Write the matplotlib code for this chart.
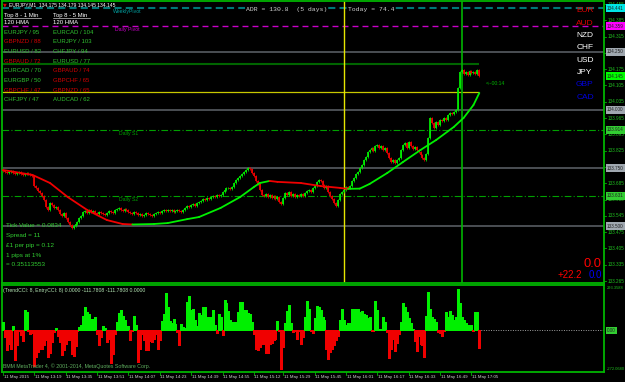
import numpy as np
import matplotlib.pyplot as plt
from matplotlib.lines import Line2D

plt.rcParams['font.family'] = ['Liberation Sans', 'DejaVu Sans']

# ---------------- data ----------------
# EURJPY M1 closes, one per bar
closes = [
    133.738, 133.734, 133.729, 133.734, 133.738, 133.729, 133.725, 133.729, 133.734, 133.725,
    133.721, 133.725, 133.729, 133.725, 133.721, 133.716, 133.673, 133.665, 133.652, 133.643,
    133.630, 133.613, 133.583, 133.570, 133.600, 133.592, 133.579, 133.583, 133.570, 133.553,
    133.544, 133.557, 133.535, 133.518, 133.505, 133.492, 133.501, 133.510, 133.518, 133.535,
    133.544, 133.561, 133.566, 133.557, 133.570, 133.561, 133.566, 133.557, 133.553, 133.561,
    133.557, 133.553, 133.548, 133.557, 133.566, 133.561, 133.557, 133.570, 133.574, 133.579,
    133.570, 133.566, 133.574, 133.570, 133.561, 133.557, 133.553, 133.561, 133.557, 133.548,
    133.553, 133.544, 133.548, 133.557, 133.553, 133.548, 133.544, 133.553, 133.557, 133.561,
    133.557, 133.566, 133.570, 133.566, 133.570, 133.566, 133.570, 133.561, 133.566, 133.570,
    133.566, 133.561, 133.570, 133.579, 133.587, 133.583, 133.592, 133.596, 133.587, 133.600,
    133.604, 133.609, 133.617, 133.613, 133.622, 133.617, 133.626, 133.630, 133.626, 133.635,
    133.630, 133.635, 133.648, 133.656, 133.665, 133.665, 133.661, 133.669, 133.686, 133.699,
    133.708, 133.716, 133.725, 133.734, 133.742, 133.751, 133.746, 133.729, 133.716, 133.695,
    133.682, 133.656, 133.635, 133.630, 133.639, 133.626, 133.635, 133.622, 133.630, 133.617,
    133.626, 133.604, 133.596, 133.622, 133.643, 133.635, 133.648, 133.630, 133.639, 133.626,
    133.635, 133.630, 133.639, 133.630, 133.643, 133.652, 133.656, 133.648, 133.665, 133.673,
    133.691, 133.699, 133.695, 133.678, 133.665, 133.673, 133.648, 133.630, 133.617, 133.600,
    133.587, 133.613, 133.639, 133.648, 133.656, 133.669, 133.665, 133.673, 133.695, 133.708,
    133.725, 133.734, 133.751, 133.764, 133.785, 133.798, 133.819, 133.828, 133.837, 133.824,
    133.845, 133.850, 133.837, 133.845, 133.828, 133.837, 133.815, 133.794, 133.776, 133.785,
    133.772, 133.785, 133.794, 133.828, 133.850, 133.858, 133.837, 133.862, 133.845, 133.832,
    133.841, 133.828, 133.819, 133.807, 133.794, 133.785, 133.811, 133.880, 133.966, 133.945,
    133.923, 133.949, 133.936, 133.957, 133.953, 133.966, 133.957, 133.979, 133.987, 133.983,
    133.991, 134.000, 134.094, 134.163, 134.172, 134.155, 134.163, 134.151, 134.168, 134.159,
    134.163, 134.155, 134.172, 134.145,
]
first_open = 133.742

# 120 HMA line, sampled at these bars
hma_bars = [0, 15, 24, 33, 43, 53, 61, 66, 77, 84, 94, 100, 111, 121, 128, 131,
            136, 140, 152, 162, 172, 176, 182, 187, 196, 204, 213, 221, 230, 235, 240, 243]
hma_vals = [133.742, 133.721, 133.686, 133.626, 133.570, 133.527, 133.510, 133.508,
            133.510, 133.514, 133.531, 133.540, 133.579, 133.626, 133.669, 133.686,
            133.695, 133.691, 133.686, 133.673, 133.665, 133.661, 133.662, 133.682,
            133.729, 133.776, 133.828, 133.871, 133.927, 133.966, 134.021, 134.073]

# TrendCCI / EntryCCI histogram, one per bar
cci_hist = [
    62, -46, -138, -92, -127, 28, -207, -104, -5, -35,
    -76, 143, 127, -5, -23, -18, -248, -184, -150, -127,
    -127, -104, -69, -184, -156, -81, -12, 16, -41, -81,
    -173, -138, -92, -69, -69, -161, -179, -108, -4, 23,
    35, 104, 166, 127, 115, 81, 81, 92, -23, -104,
    -46, 28, 16, -81, -58, -225, -161, -23, 62, 120,
    143, 104, 76, 30, 30, -64, -4, 104, 41, -219,
    -133, -28, -69, -138, -138, -74, -81, -62, -23, -127,
    -69, 69, 115, 258, 166, 69, 51, 81, 46, -12,
    -104, 46, 23, 16, 196, 242, 143, 150, 74, 28,
    120, 108, 166, 161, 92, 97, 92, 143, 35, -18,
    115, 92, -35, 212, 189, 133, 74, 58, 58, 58,
    127, 196, 196, 143, 143, 122, 115, 62, -23, -127,
    -138, -115, -92, -97, -156, -156, -92, -87, -69, -58,
    69, -4, -271, -115, 51, 138, 179, 51, -12, -4,
    -58, -4, -92, -46, 92, 207, 150, -4, -16, 85,
    173, 161, 143, 97, 74, -127, -196, -150, -127, -104,
    -64, -41, 74, 150, 74, 35, 53, 53, 150, 150,
    150, 150, 127, 133, 115, 110, 87, 97, -4, -3,
    207, 143, 12, 12, 97, 58, -12, -189, -133, -58,
    -143, -87, -23, 58, 189, 166, 127, 87, 51, 12,
    -74, -143, -41, -92, -104, -184, 104, 271, 150, 92,
    81, 58, -12, -18, -41, -4, 127, 92, 133, 108,
    74, 97, 288, 189, 97, 74, 51, 41, 39, 35,
    -4, 127, 127, -122,
]

# levels
weekly_pivot = 134.437
daily_pivot = 134.359
round_levels = [134.250, 134.000, 133.750, 133.500]
daily_s1 = 133.914
daily_s2 = 133.631
day_high_line = 134.197
adr_line = 134.077
session_bars = [174, 234]   # yellow, green verticals

price_ticks = [134.455, 134.385, 134.315, 134.245, 134.175, 134.105, 134.035, 133.965,
               133.895, 133.825, 133.755, 133.685, 133.615, 133.545, 133.475, 133.405,
               133.335, 133.265]

time_bars = [0, 16, 32, 48, 64, 80, 96, 112, 128, 143, 159, 175, 191, 207, 223, 239]
time_labels = ["11 May 2015", "11 May 13:19", "11 May 13:35", "11 May 13:51", "11 May 14:07",
               "11 May 14:23", "11 May 14:39", "11 May 14:55", "11 May 15:12", "11 May 15:29",
               "11 May 15:45", "11 May 16:01", "11 May 16:17", "11 May 16:33", "11 May 16:49",
               "11 May 17:05"]

top1_pairs = ["EURJPY / 95", "GBPNZD / 88", "EURUSD / 82", "GBPAUD / 72",
              "EURCAD / 70", "EURGBP / 50", "GBPCHF / 47", "CHFJPY / 47"]
top1_up = [True, False, True, False, True, True, False, True]
top5_pairs = ["EURCAD / 104", "EURJPY / 103", "CHFJPY / 94", "EURUSD / 77",
              "GBPAUD / 74", "GBPCHF / 65", "GBPNZD / 65", "AUDCAD / 62"]
top5_up = [True, True, True, True, False, False, False, True]

currencies = ["EUR", "AUD", "NZD", "CHF", "USD", "JPY", "GBP", "CAD"]
currency_colors = ["#e00000", "#e00000", "white", "white", "white", "white", "#0000e0", "#0000e0"]

info_lines = ["Tick Value = 0.0834", "Spread = 11", "£1 per pip = 0.12", "1 pips at 1%", "= 0.35113553"]

# ---------------- figure ----------------
W, H = 625, 382
def fx(x): return x / W
def fy(y): return 1 - y / H

GREEN = '#00b400'
UP = '#00f000'
DOWN = '#f00000'
AX_TXT = dict(fontsize=3.3, va='center', ha='left')

fig = plt.figure(figsize=(6.25, 3.82), dpi=100, facecolor='black')
ax = fig.add_axes([fx(2), fy(283), fx(604) - fx(2), fy(1) - fy(283)])
axi = fig.add_axes([fx(2), fy(372), fx(604) - fx(2), fy(285) - fy(372)])
for a in (ax, axi):
    a.set_facecolor('black')
    a.set_xticks([])
    a.set_yticks([])
    for s in a.spines.values():
        s.set_color(GREEN)
        s.set_linewidth(1.3)

xmin, xmax = -0.51, 306.6
ax.set_xlim(xmin, xmax)
ax.set_ylim(133.2566, 134.4679)
axi.set_xlim(xmin, xmax)
axi.set_ylim(-290, 317)

n = len(closes)
idx = np.arange(n)
c = np.array(closes)
o = np.r_[first_open, c[:-1]]
up = c >= o
lo = np.minimum(o, c)
hi = np.maximum(o, c)
hi = np.where(hi - lo < 0.0018, lo + 0.0018, hi)

# horizontal levels
ax.axhline(weekly_pivot, color='#007878', lw=1.5, ls=(0, (3.4, 2.0)), zorder=1)
ax.axhline(daily_pivot, color='#c800c8', lw=1.0, ls=(0, (4.3, 2.9)), zorder=1)
for lv in round_levels:
    ax.axhline(lv, color='#50555a', lw=1.3, zorder=1)
for lv in (daily_s1, daily_s2):
    ax.axhline(lv, color='#00a000', lw=0.8, ls=(0, (6, 2, 1, 2)), zorder=1)
ax.hlines(day_high_line, xmin, n - 1, color='#006400', lw=1.5, zorder=1)
ax.hlines(adr_line, xmin, n - 1, color='#c8c800', lw=0.9, zorder=1)
ax.axvline(session_bars[0], color='#e6e600', lw=1.0, zorder=1)
ax.axvline(session_bars[1], color='#00b400', lw=1.2, zorder=1)

# candles
col = np.where(up, UP, DOWN)
ax.vlines(idx, lo - 0.004, hi + 0.004, colors=col, lw=0.55, zorder=3)
ax.vlines(idx, lo, hi, colors=col, lw=1.25, zorder=3)

# HMA, coloured by slope
for k in range(len(hma_bars) - 1):
    colr = UP if hma_vals[k + 1] >= hma_vals[k] else DOWN
    ax.plot(hma_bars[k:k + 2], hma_vals[k:k + 2], color=colr, lw=1.3, zorder=4,
            solid_capstyle='round')

# level labels on the chart
lab_kw = dict(fontsize=3.7, va='top', ha='left')
ax.text(56, weekly_pivot - 0.004, "WeeklyPivot", color='#00a0a0', **lab_kw)
ax.text(57, daily_pivot - 0.004, "Daily Pivot", color='#c800c8', **lab_kw)
ax.text(59, daily_s1 - 0.004, "Daily S1", color='#00a000', **lab_kw)
ax.text(59, daily_s2 - 0.004, "Daily S2", color='#00a000', **lab_kw)
ax.text(n + 2.5, 134.112, "<--00:14", color=GREEN, fontsize=3.7, va='center', ha='left')

# right price axis
ytr = ax.get_yaxis_transform()
for p in price_ticks:
    ax.plot([1.0, 1.004], [p, p], color=GREEN, lw=0.6, transform=ytr, clip_on=False)
    ax.text(1.006, p, f"{p:.3f}", color='#20c020', transform=ytr, **AX_TXT)
boxes = [(weekly_pivot, "134.441", '#00e6e6'), (daily_pivot, f"{daily_pivot:.3f}", '#ff00ff'),
         (c[-1], f"{c[-1]:.3f}", '#00ff00'), (daily_s1, f"{daily_s1:.3f}", '#32cd32'),
         (daily_s2, f"{daily_s2:.3f}", '#32cd32')]
boxes += [(lv, f"{lv:.3f}", '#a0a8b0') for lv in round_levels]
for p, t, bc in boxes:
    ax.text(1.005, p, t, color='#202020', transform=ytr,
            bbox=dict(boxstyle='square,pad=0.3', fc=bc, ec='none'), **AX_TXT)

# indicator histogram
hist = np.array(cci_hist)
hx = np.arange(len(hist))
axi.vlines(hx, 0, hist, colors=np.where(hist >= 0, UP, DOWN), lw=1.05,
           antialiased=False, zorder=3)
axi.axhline(0, color='#a0a0a0', lw=0.7, ls=(0, (1, 1.5)), zorder=2)
ytri = axi.get_yaxis_transform()
for v, t in ((293.3588, "293.3588"), (-272.068, "-272.0680")):
    axi.text(1.004, v, t, color='#20c020', fontsize=2.9, va='center', ha='left',
             transform=ytri)
axi.text(1.005, 0, "0.00", color='#202020', transform=ytri,
         bbox=dict(boxstyle='square,pad=0.3', fc='#32cd32', ec='none'), **AX_TXT)
axi.text(0.002, 0.97, "(TrendCCI: 8, EntryCCI: 8) 0.0000 -111.7808 -111.7808 0.0000",
         color='#b4e6b4', fontsize=3.7, va='top', ha='left', transform=axi.transAxes)
axi.text(0.002, 0.03, "BMM MetaTrader 4, \u00a9 2001-2014, MetaQuotes Software Corp.",
         color='#60b060', fontsize=3.8, va='bottom', ha='left', transform=axi.transAxes)

# time axis
xtr = axi.get_xaxis_transform()
for b, t in zip(time_bars, time_labels):
    axi.plot([b, b], [0, -0.03], color=GREEN, lw=0.6, transform=xtr, clip_on=False)
    axi.text(b + 0.3, -0.035, t, color='#d0d0d0', fontsize=3.2, va='top', ha='left',
             transform=xtr)

# header
fig.text(fx(3), fy(5), "\u25bc", color='#e00000', fontsize=3.5, va='center', ha='left',
         family='DejaVu Sans')
fig.text(fx(9), fy(5), "EURJPY,M1  134.175 134.179 134.145 134.145", color='white',
         fontsize=3.6, va='center', ha='left')

# HMA strength tables
fig.text(fx(4), fy(15), "Top 8 - 1 Min", color='white', fontsize=4.3, va='center', ha='left')
fig.text(fx(53), fy(15), "Top 8 - 5 Min", color='white', fontsize=4.3, va='center', ha='left')
fig.add_artist(Line2D([fx(4), fx(41)], [fy(18.3)] * 2, color='white', lw=0.4))
fig.add_artist(Line2D([fx(53), fx(90)], [fy(18.3)] * 2, color='white', lw=0.4))
fig.text(fx(4), fy(22), "120 HMA", color='white', fontsize=4.3, va='center', ha='left')
fig.text(fx(53), fy(22), "120 HMA", color='white', fontsize=4.3, va='center', ha='left')
for k in range(len(top1_pairs)):
    yy = 32 + 9.7 * k
    fig.text(fx(4), fy(yy), top1_pairs[k], color='#30c030' if top1_up[k] else '#d00000',
             fontsize=4.3, va='center', ha='left')
    fig.text(fx(53), fy(yy), top5_pairs[k], color='#30c030' if top5_up[k] else '#d00000',
             fontsize=4.3, va='center', ha='left')

# ADR box
adr_kw = dict(fontsize=4.6, va='center', ha='left', family='Liberation Mono', color='#d0d0d0',
              bbox=dict(boxstyle='square,pad=0.1', fc='black', ec='none'))
fig.text(fx(246), fy(10), "ADR = 130.8  (5 days)", **adr_kw)
fig.text(fx(348), fy(10), "Today = 74.4", **adr_kw)

# currency strength column
for k, (cur, cc) in enumerate(zip(currencies, currency_colors)):
    fig.text(fx(585), fy(11 + 12.3 * k), cur, color=cc, fontsize=6, va='center', ha='center')

# money management block
for k, t in enumerate(info_lines):
    fig.text(fx(6), fy(225 + 10 * k), t, color='#32cd32', fontsize=4.6, va='center', ha='left')

fig.text(fx(602), fy(264), "0.0", color='#ff0000', fontsize=9.3, va='center', ha='right')
fig.text(fx(582), fy(275), "+22.2", color='#ff0000', fontsize=7.0, va='center', ha='right')
fig.text(fx(602), fy(275), "0.0", color='#0000ff', fontsize=7.0, va='center', ha='right')

fig.savefig('out.png', dpi=100, facecolor='black')
